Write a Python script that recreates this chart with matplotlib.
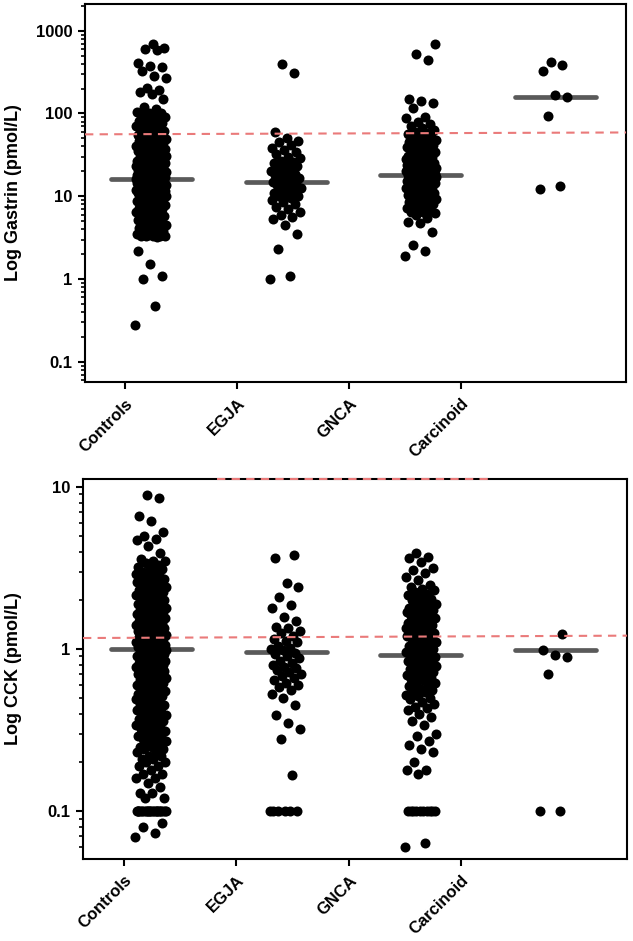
import numpy as np
import matplotlib
matplotlib.use('Agg')
import matplotlib.pyplot as plt
from matplotlib.ticker import FixedLocator, FixedFormatter, LogLocator, NullFormatter

groups = ['Controls', 'EGJA', 'GNCA', 'Carcinoid']

# gastrin, pmol/L
controls_gastrin = [
    700, 620, 600, 590, 410, 380, 360, 330, 285, 270, 205, 190, 180, 170, 148, 120, 112, 105, 102, 100,
    97, 93, 91, 87, 86, 82, 80, 77, 76, 72, 71, 68, 66, 65, 62, 61, 58, 57, 55, 54,
    53, 51, 50, 49, 48, 47, 47, 45, 44, 43, 42, 41, 40, 40, 38, 38, 37, 36, 35, 35,
    34, 33, 33, 32, 31, 31, 30, 30, 29, 29, 28, 28, 27, 27, 27, 26, 26, 25, 25, 25,
    24, 24, 24, 23, 23, 23, 22, 22, 22, 22, 21, 21, 21, 21, 20, 20, 20, 20, 19.5, 19.5,
    19, 19, 19, 18.5, 18.5, 18, 18, 18, 18, 17.5, 17.5, 17, 17, 17, 17, 16.5, 16.5, 16, 16, 16,
    15.5, 15.5, 15, 15, 15, 15, 14.5, 14.5, 14, 14, 14, 14, 13.5, 13.5, 13, 13, 13, 13, 12.5, 12.5,
    12, 12, 12, 12, 11.5, 11.5, 11, 11, 11, 11, 10.5, 10.5, 10, 10, 10, 10, 9.6, 9.5, 9.2, 9,
    9, 8.8, 8.5, 8.4, 8.2, 8, 7.8, 7.7, 7.5, 7.3, 7.1, 7, 6.8, 6.6, 6.5, 6.3, 6.1, 6, 5.8, 5.7,
    5.5, 5.4, 5.2, 5.1, 4.9, 4.8, 4.6, 4.5, 4.3, 4.2, 4.1, 3.9, 3.8, 3.7, 3.6, 3.5, 3.4, 3.3, 3.3, 3.3,
    3.3, 3.3, 3.2, 2.2, 1.5, 1.08, 1.0, 0.47, 0.28]
egja_gastrin = [
    400, 310, 60, 50, 46, 45, 42, 38, 36, 34, 32, 30, 29, 27, 26, 25, 24, 23, 22, 21,
    20, 19, 18.5, 18, 17, 16.5, 16, 15.5, 15, 14.5, 14, 13.5, 13, 12.5, 12, 11.5, 11, 10.5, 10, 10,
    9.5, 9, 8.5, 8, 7.5, 7, 6.5, 6, 5.6, 5.3, 4.5, 3.5, 2.3, 1.1, 1.0]
gnca_gastrin = [
    700, 520, 440, 150, 140, 135, 115, 90, 88, 80, 75, 70, 66, 63, 60, 58, 56, 55, 53, 52,
    50, 48, 47, 46, 45, 44, 42, 41, 40, 39, 38, 37, 36, 35, 34, 33, 32, 31, 30, 30,
    29, 28, 28, 27, 27, 26, 26, 25, 25, 24, 24, 23, 23, 23, 22, 22, 22, 21, 21, 21,
    20, 20, 20, 20, 19.5, 19, 19, 19, 18.5, 18.5, 18, 18, 18, 17.5, 17.5, 17, 17, 17, 16.5, 16.5,
    16, 16, 16, 15.5, 15.5, 15, 15, 15, 14.5, 14.5, 14, 14, 14, 13.5, 13, 13, 13, 12.5, 12, 12,
    12, 11.5, 11, 11, 11, 10.5, 10, 10, 10, 9.5, 9.2, 9, 8.8, 8.5, 8.2, 8, 7.8, 7.5, 7.2, 7,
    6.8, 6.5, 6.4, 6.2, 6, 5.5, 4.9, 4.7, 3.7, 2.6, 2.2, 1.9]
carcinoid_gastrin = [420, 390, 330, 165, 160, 92, 13.2, 12.2]

# CCK, pmol/L
controls_cck = [
    8.9, 8.5, 6.6, 6.2, 5.3, 5.0, 4.8, 4.7, 4.3, 3.9, 3.6, 3.5, 3.5, 3.4, 3.3, 3.2, 3.2, 3.1, 3.0, 3.0,
    2.9, 2.9, 2.85, 2.8, 2.75, 2.7, 2.7, 2.65, 2.6, 2.55, 2.5, 2.5, 2.45, 2.4, 2.4, 2.35, 2.3, 2.3, 2.25, 2.2,
    2.2, 2.15, 2.1, 2.1, 2.05, 2.0, 2.0, 2.0, 1.95, 1.9, 1.9, 1.9, 1.85, 1.8, 1.8, 1.8, 1.75, 1.75, 1.7, 1.7,
    1.7, 1.65, 1.65, 1.6, 1.6, 1.6, 1.55, 1.55, 1.5, 1.5, 1.5, 1.47, 1.45, 1.45, 1.42, 1.4, 1.4, 1.4, 1.37, 1.35,
    1.35, 1.32, 1.3, 1.3, 1.3, 1.27, 1.25, 1.25, 1.22, 1.2, 1.2, 1.18, 1.17, 1.15, 1.15, 1.12, 1.11, 1.1, 1.1, 1.1,
    1.08, 1.06, 1.05, 1.05, 1.03, 1.02, 1.0, 1.0, 0.99, 0.98, 0.97, 0.95, 0.95, 0.94, 0.93, 0.92, 0.9, 0.9, 0.89, 0.88,
    0.87, 0.86, 0.85, 0.85, 0.83, 0.82, 0.81, 0.8, 0.8, 0.78, 0.77, 0.76, 0.75, 0.75, 0.74, 0.73, 0.72, 0.71, 0.7, 0.7,
    0.69, 0.68, 0.67, 0.66, 0.65, 0.65, 0.64, 0.63, 0.62, 0.61, 0.6, 0.6, 0.59, 0.58, 0.57, 0.56, 0.55, 0.55, 0.54, 0.53,
    0.52, 0.51, 0.5, 0.5, 0.49, 0.48, 0.47, 0.46, 0.46, 0.45, 0.44, 0.43, 0.42, 0.42, 0.41, 0.4, 0.4, 0.39, 0.38, 0.38,
    0.37, 0.36, 0.36, 0.35, 0.34, 0.34, 0.33, 0.33, 0.32, 0.31, 0.31, 0.3, 0.3, 0.29, 0.29, 0.28, 0.28, 0.27, 0.27, 0.26,
    0.26, 0.25, 0.25, 0.24, 0.24, 0.23, 0.23, 0.22, 0.22, 0.21, 0.21, 0.2, 0.2, 0.19, 0.19, 0.18, 0.17, 0.17, 0.16, 0.16,
    0.15, 0.14, 0.13, 0.13, 0.12, 0.12,
    0.1, 0.1, 0.1, 0.1, 0.1, 0.1, 0.1, 0.1, 0.1, 0.1, 0.1, 0.1, 0.1, 0.1, 0.1, 0.1, 0.1, 0.1, 0.1, 0.1,
    0.1, 0.1, 0.1, 0.1, 0.085, 0.08, 0.073, 0.069]
egja_cck = [
    3.8, 3.65, 2.55, 2.4, 2.1, 1.87, 1.8, 1.57, 1.5, 1.37, 1.35, 1.3, 1.25, 1.2, 1.15, 1.12, 1.1, 1.05, 1.02, 1.0,
    0.98, 0.95, 0.93, 0.9, 0.88, 0.85, 0.82, 0.8, 0.78, 0.76, 0.74, 0.72, 0.7, 0.68, 0.66, 0.64, 0.62, 0.6, 0.58, 0.56,
    0.53, 0.5, 0.45, 0.39, 0.35, 0.32, 0.28, 0.167, 0.1, 0.1, 0.1, 0.1, 0.1, 0.1]
gnca_cck = [
    3.9, 3.7, 3.65, 3.45, 3.15, 3.07, 2.95, 2.78, 2.66, 2.5, 2.4, 2.35, 2.3, 2.25, 2.2, 2.15, 2.1, 2.05, 2.0, 1.95,
    1.9, 1.9, 1.85, 1.8, 1.8, 1.75, 1.75, 1.7, 1.7, 1.65, 1.6, 1.6, 1.55, 1.55, 1.5, 1.5, 1.45, 1.45, 1.4, 1.4,
    1.37, 1.35, 1.35, 1.3, 1.3, 1.28, 1.25, 1.23, 1.22, 1.2, 1.18, 1.16, 1.15, 1.12, 1.1, 1.08, 1.06, 1.05, 1.02, 1.0,
    0.98, 0.97, 0.96, 0.94, 0.92, 0.91, 0.9, 0.89, 0.87, 0.86, 0.85, 0.84, 0.82, 0.81, 0.8, 0.79, 0.77, 0.76, 0.75, 0.74,
    0.72, 0.71, 0.7, 0.69, 0.67, 0.66, 0.65, 0.64, 0.62, 0.61, 0.6, 0.59, 0.57, 0.56, 0.55, 0.54, 0.52, 0.51, 0.5, 0.49,
    0.47, 0.46, 0.44, 0.43, 0.42, 0.40, 0.38, 0.36, 0.34, 0.30, 0.29, 0.27, 0.255, 0.24, 0.23, 0.2, 0.18, 0.18, 0.17,
    0.1, 0.1, 0.1, 0.1, 0.1, 0.1, 0.1, 0.1, 0.1, 0.1, 0.064, 0.06]
carcinoid_cck = [1.24, 0.99, 0.92, 0.89, 0.70, 0.1, 0.1]

medians_gastrin = [16, 14.7, 17.9, 160]
medians_cck = [1.0, 0.96, 0.92, 0.99]
cutoff_gastrin = [56, 59]     # dashed reference line, left -> right
cutoff_cck = [1.17, 1.21]

plt.rcParams['font.family'] = ['Liberation Sans', 'DejaVu Sans']
plt.rcParams['font.weight'] = 'bold'


def jitter(n, width=0.115):
    k = np.arange(n)
    return ((k * 0.618034) % 1.0 - 0.5) * 2 * width


def draw_panel(ax, data, medians, cutoff, ylim, yticks, yticklabels, ylabel, xlim, tickpos, labelx):
    for i, vals in enumerate(data):
        v = np.sort(np.asarray(vals, dtype=float))
        ax.scatter(i + jitter(len(v)), v, s=52, color='black', linewidths=0, zorder=3)
        ax.plot([i - 0.3, i + 0.3], [medians[i], medians[i]], color='#5a5a5a', lw=3.4,
                solid_capstyle='round', zorder=2)
    ax.plot(xlim, cutoff, color='#ea7a7a', lw=1.5, ls=(0, (4, 3)), zorder=4)
    ax.set_yscale('log')
    ax.set_xlim(*xlim)
    ax.set_ylim(*ylim)
    ax.yaxis.set_major_locator(FixedLocator(yticks))
    ax.yaxis.set_major_formatter(FixedFormatter(yticklabels))
    ax.yaxis.set_minor_locator(LogLocator(base=10, subs=np.arange(2, 10), numticks=20))
    ax.yaxis.set_minor_formatter(NullFormatter())
    ax.set_xticks(tickpos)
    ax.set_xticklabels(groups)
    for lab in ax.get_xticklabels():
        lab.set_rotation(45)
        lab.set_ha('right')
        lab.set_va('top')
        lab.set_rotation_mode('anchor')
        lab.set_fontsize(12)
        lab.set_fontweight('bold')
    for lab in ax.get_yticklabels():
        lab.set_fontsize(12)
        lab.set_fontweight('bold')
    ax.tick_params(which='major', direction='out', length=5, width=1.5, pad=4)
    ax.tick_params(which='minor', direction='out', length=3, width=1.2)
    ax.tick_params(axis='x', pad=5)
    for sp in ax.spines.values():
        sp.set_linewidth(1.5)
        sp.set_color('black')
    ax.set_ylabel(ylabel, fontsize=13, fontweight='bold')
    ax.yaxis.set_label_coords(labelx, 0.5)


fig = plt.figure(figsize=(6.33, 9.41), dpi=100)
ax1 = fig.add_axes([0.1343, 0.5940, 0.8547, 0.4017])
ax2 = fig.add_axes([0.1311, 0.0871, 0.8594, 0.4038])

draw_panel(ax1, [controls_gastrin, egja_gastrin, gnca_gastrin, carcinoid_gastrin],
           medians_gastrin, cutoff_gastrin, (0.057, 2100),
           [0.1, 1, 10, 100, 1000], ['0.1', '1', '10', '100', '1000'],
           'Log Gastrin (pmol/L)', (-0.489, 3.519), [-0.193, 0.637, 1.467, 2.296], -0.1165)

draw_panel(ax2, [controls_cck, egja_cck, gnca_cck, carcinoid_cck],
           medians_cck, cutoff_cck, (0.0506, 11.2),
           [0.1, 1, 10], ['0.1', '1', '10'],
           'Log CCK (pmol/L)', (-0.504, 3.526), [-0.200, 0.630, 1.467, 2.296], -0.112)

# stray dashed segment sitting on the top edge of the lower panel
ax2.plot([0.49, 2.53], [11.2, 11.2], color='#ea7a7a', lw=1.5, ls=(0, (4, 3)),
         clip_on=False, zorder=5)

fig.savefig('out.png', dpi=100)
